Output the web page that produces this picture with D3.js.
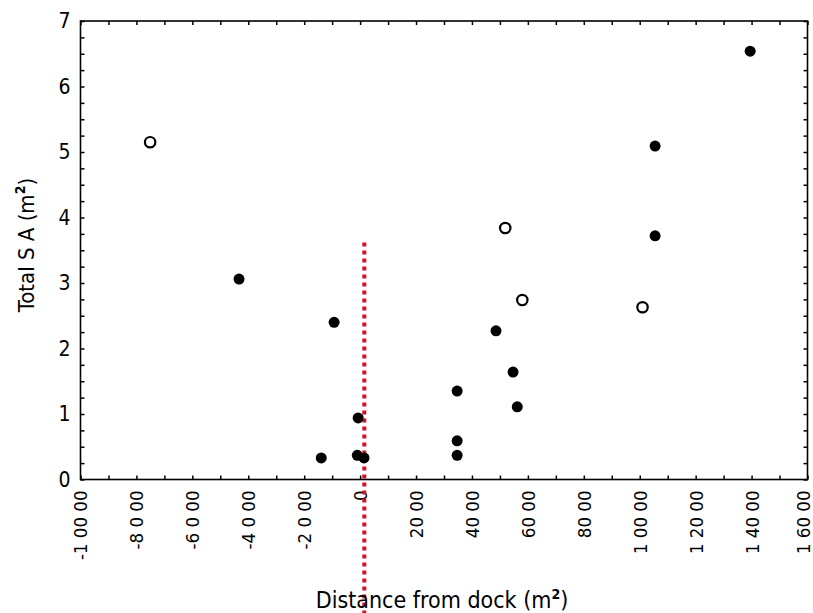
<!DOCTYPE html>
<html><head><meta charset="utf-8">
<script src="https://cdn.jsdelivr.net/npm/d3@7"></script>
<style>body{margin:0;background:#fff}svg{display:block}</style>
</head><body><svg id="c" width="813" height="613"></svg>
<script>
// ---- data ----
const xTickValues = [-10000,-8000,-6000,-4000,-2000,0,2000,4000,6000,8000,10000,12000,14000,16000];
const xTickLabels = ["-1 00 00","-8 0 00","-6 0 00","-4 0 00","-2 0 00","0","20 00","40 00","60 00","80 00","1 00 00","1 20 00","1 40 00","1 60 00"];
const yTickValues = [0,1,2,3,4,5,6,7];
const yTickLabels = ["0","1","2","3","4","5","6","7"];
const filledX = [13950,10550,10550,-4330,-930,4860,5470,3470,5620,-70,3470,3470,-1390,-100,140];
const filledY = [6.54,5.09,3.72,3.06,2.40,2.27,1.64,1.35,1.11,0.94,0.59,0.37,0.33,0.37,0.33];
const openX = [-7510,5190,5800,10100];
const openY = [5.15,3.84,2.74,2.63];
const refLineX = 150;
const refLineTop = 3.62;
const xTitle = "Distance from dock (m";
const yTitle = "Total S A (m";

// ---- layout ----
const W = 813, H = 613;
const L = 80.5, R = 807.5, T = 21, B = 479.5;
const FONT = "'Liberation Sans Narrow','DejaVu Sans Condensed','Liberation Sans',Arial,sans-serif";
const svg = d3.select("#c");
const x = d3.scaleLinear().domain([-10000,16000]).range([L,R]);
const y = d3.scaleLinear().domain([0,7]).range([B,T]);

const minorX = d3.range(-10000,16001,1000);
const minorY = d3.range(0,7.001,0.25);

// frame ticks (inward)
svg.append("g").attr("transform",`translate(0,${B})`)
  .call(d3.axisBottom(x).tickValues(minorX).tickSize(-4).tickFormat(""))
  .call(g=>g.select(".domain").remove());
svg.append("g").attr("transform",`translate(0,${T})`)
  .call(d3.axisTop(x).tickValues(minorX).tickSize(-4).tickFormat(""))
  .call(g=>g.select(".domain").remove());
svg.append("g").attr("transform",`translate(${L},0)`)
  .call(d3.axisLeft(y).tickValues(minorY).tickSize(-4).tickFormat(""))
  .call(g=>g.select(".domain").remove());
svg.append("g").attr("transform",`translate(${R},0)`)
  .call(d3.axisRight(y).tickValues(minorY).tickSize(-4).tickFormat(""))
  .call(g=>g.select(".domain").remove());
svg.selectAll(".tick line").attr("stroke","#000").attr("stroke-width",1.5);

svg.append("rect").attr("x",L).attr("y",T).attr("width",R-L).attr("height",B-T)
  .attr("fill","none").attr("stroke","#000").attr("stroke-width",1.6);

// x labels
const gx = svg.append("g").attr("transform",`translate(0,${B})`)
  .call(d3.axisBottom(x).tickValues(xTickValues).tickSize(0)
    .tickFormat((d,i)=>xTickLabels[i]));
gx.select(".domain").remove();
gx.selectAll("text").attr("transform","rotate(-90)").attr("x",-11).attr("y",0)
  .attr("dy",(d,i)=> i===xTickValues.length-1 ? "0.1em" : "0.35em").attr("text-anchor","end")
  .style("font-family",FONT).style("font-size","18.5px").attr("fill","#000");

// y labels
const gy = svg.append("g").attr("transform",`translate(${L},0)`)
  .call(d3.axisLeft(y).tickValues(yTickValues).tickSize(0).tickPadding(10)
    .tickFormat((d,i)=>yTickLabels[i]));
gy.select(".domain").remove();
gy.selectAll("text").style("font-family",FONT).style("font-size","21px").attr("fill","#000");

// red reference line
svg.append("line").attr("x1",x(refLineX)).attr("x2",x(refLineX))
  .attr("y1",y(refLineTop)).attr("y2",H)
  .attr("stroke","#d01028").attr("stroke-width",4).attr("stroke-dasharray","4,4");

// points
svg.append("g").selectAll("circle").data(filledX.map((v,i)=>[v,filledY[i]])).join("circle")
  .attr("cx",d=>x(d[0])).attr("cy",d=>y(d[1])).attr("r",5.5).attr("fill","#000");
svg.append("g").selectAll("circle").data(openX.map((v,i)=>[v,openY[i]])).join("circle")
  .attr("cx",d=>x(d[0])).attr("cy",d=>y(d[1])).attr("r",5.2)
  .attr("fill","#fff").attr("stroke","#000").attr("stroke-width",2.2);

// titles
const xt = svg.append("text").attr("x",442).attr("y",608).attr("text-anchor","middle")
  .style("font-family",FONT).style("font-size","23px").attr("fill","#000");
xt.append("tspan").text(xTitle);
xt.append("tspan").attr("dy",-9).style("font-size","14px").style("font-weight","bold").text("2");
xt.append("tspan").attr("dy",9).text(")");

const yt = svg.append("text").attr("transform","translate(34,245) rotate(-90)")
  .attr("text-anchor","middle").style("font-family",FONT).style("font-size","22px").attr("fill","#000");
yt.append("tspan").text(yTitle);
yt.append("tspan").attr("dy",-9).style("font-size","14px").style("font-weight","bold").text("2");
yt.append("tspan").attr("dy",9).text(")");
</script></body></html>
